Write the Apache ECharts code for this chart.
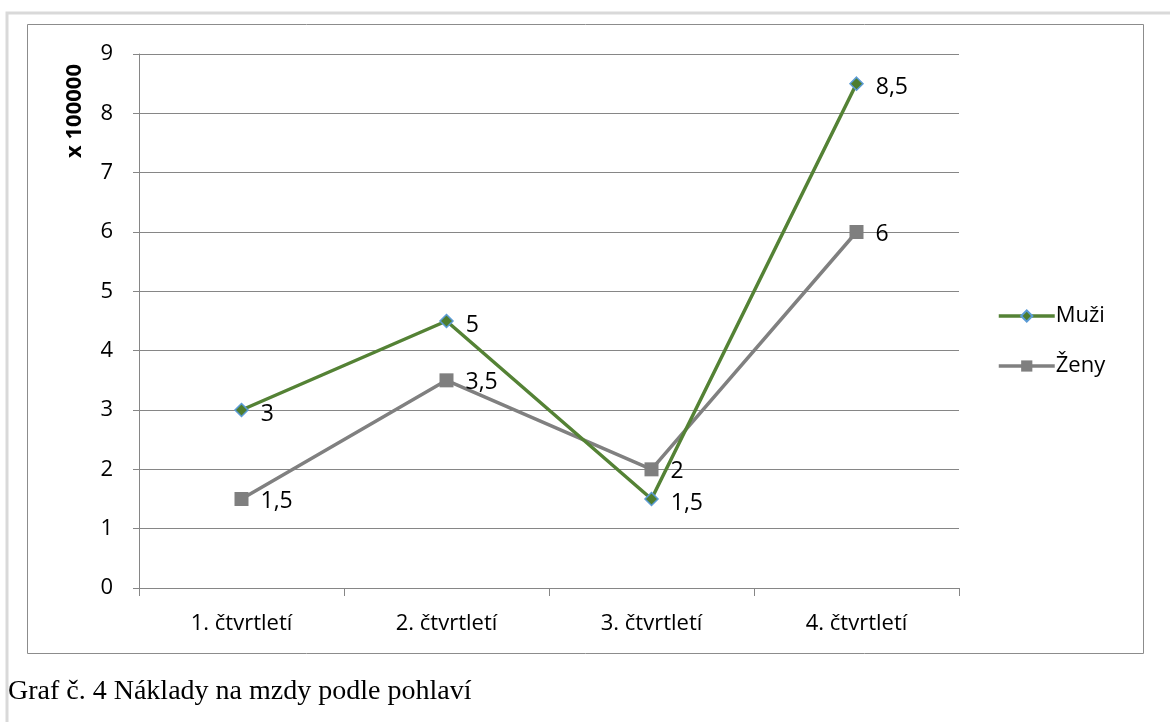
<!DOCTYPE html>
<html>
<head>
<meta charset="utf-8">
<script src="https://cdn.jsdelivr.net/npm/echarts@6/dist/echarts.min.js"></script>
<style>
  html, body { margin: 0; padding: 0; background: #fff; }
  #chart { width: 1170px; height: 722px; }
</style>
</head>
<body>
<div id="chart"></div>
<script>
// data
var categories = ['1. čtvrtletí', '2. čtvrtletí', '3. čtvrtletí', '4. čtvrtletí'];
var muzi = [3, 4.5, 1.5, 8.5];
var zeny = [1.5, 3.5, 2, 6];
// popisky v grafu (tak jak jsou v originale)
var muziLabels = ['3', '5', '1,5', '8,5'];
var zenyLabels = ['1,5', '3,5', '2', '6'];
var yTicks = [0, 1, 2, 3, 4, 5, 6, 7, 8, 9];

var font = '"Open Sans", "Noto Sans", sans-serif';
var myChart = echarts.init(document.getElementById('chart'));

var option = {
  backgroundColor: '#fff',
  animation: false,
  textStyle: { fontFamily: font },
  grid: { left: 139, right: 211, top: 54, bottom: 134 },
  graphic: [
    // vnejsi svetly ramecek
    { type: 'rect', shape: { x: 7, y: 13, width: 1180, height: 720 },
      style: { fill: 'none', stroke: '#d9d9d9', lineWidth: 3 }, silent: true },
    // ramecek grafu
    { type: 'rect', shape: { x: 27.5, y: 24.5, width: 1116, height: 629 },
      style: { fill: 'none', stroke: '#8c8c8c', lineWidth: 1 }, silent: true },
    { type: 'text', left: 64, top: 64, rotation: Math.PI / 2,
      style: { text: 'x 100000', font: 'bold 22px ' + font, fill: '#000' }, silent: true },
    { type: 'text', left: 8, top: 678,
      style: { text: 'Graf č. 4 Náklady na mzdy podle pohlaví', font: '28px "Liberation Serif", "DejaVu Serif", serif', fill: '#000' }, silent: true }
  ],
  legend: {
    orient: 'vertical',
    left: 992,
    top: 300,
    itemWidth: 56,
    itemHeight: 14,
    itemGap: 28,
    lineStyle: { width: 3.5 },
    textStyle: { fontSize: 22, color: '#000', padding: [0, 0, 0, -4] },
    data: ['Muži', 'Ženy']
  },
  xAxis: {
    type: 'category',
    data: categories,
    boundaryGap: true,
    axisLine: { lineStyle: { color: '#868686', width: 1 } },
    axisTick: { show: true, length: 8, lineStyle: { color: '#868686' } },
    axisLabel: { fontSize: 22, color: '#000', margin: 25 }
  },
  yAxis: {
    type: 'value',
    min: yTicks[0],
    max: yTicks[yTicks.length - 1],
    interval: 1,
    axisLine: { show: true, lineStyle: { color: '#868686', width: 1 } },
    axisTick: { show: true, length: 6, lineStyle: { color: '#868686' } },
    axisLabel: { fontSize: 22, color: '#000', margin: 26 },
    splitLine: { lineStyle: { color: '#868686', width: 1 } }
  },
  series: [
    {
      name: 'Muži',
      type: 'line',
      data: muzi,
      symbol: 'diamond',
      symbolSize: 13,
      lineStyle: { color: '#548235', width: 3.5 },
      itemStyle: { color: '#4e7d2e', borderColor: '#5b9bd5', borderWidth: 1.5 },
      label: {
        show: true, position: 'right', distance: 12,
        fontSize: 23, color: '#000', offset: [0, 4],
        formatter: function (p) { return muziLabels[p.dataIndex]; }
      },
      z: 3
    },
    {
      name: 'Ženy',
      type: 'line',
      data: zeny,
      symbol: 'rect',
      symbolSize: 14,
      lineStyle: { color: '#808080', width: 3.5 },
      itemStyle: { color: '#7f7f7f', borderWidth: 0 },
      label: {
        show: true, position: 'right', distance: 12,
        fontSize: 23, color: '#000', offset: [0, 2],
        formatter: function (p) { return zenyLabels[p.dataIndex]; }
      },
      z: 2
    }
  ]
};

myChart.setOption(option);
</script>
</body>
</html>
